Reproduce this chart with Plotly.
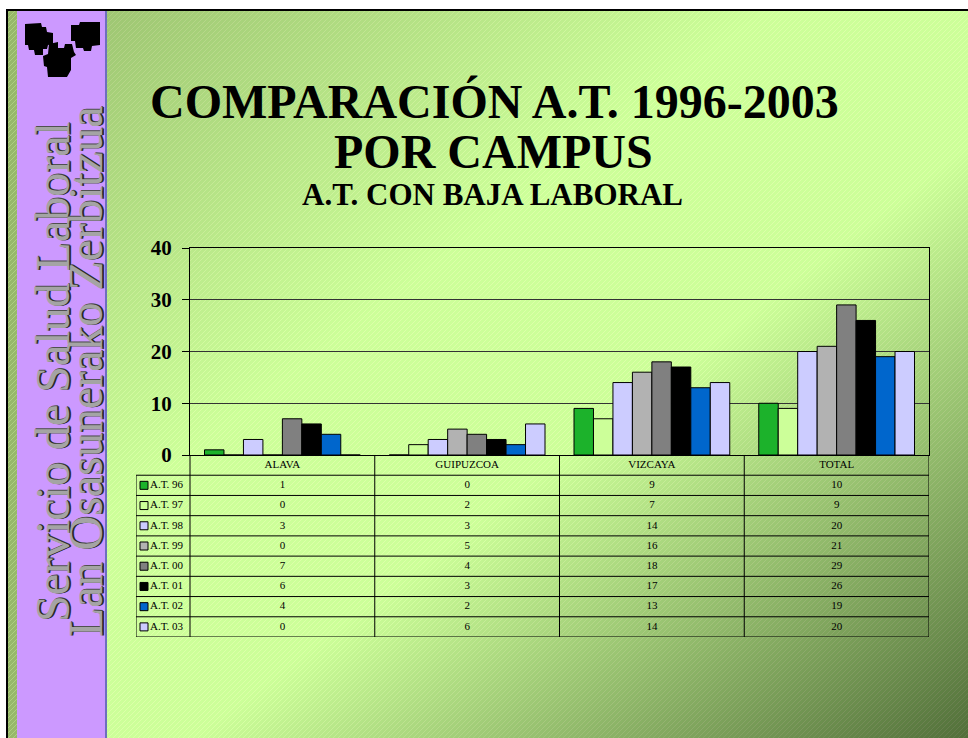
import base64, struct, zlib
import numpy as np
import plotly.graph_objects as go

# ---------------- data ----------------
campus = ["ALAVA", "GUIPUZCOA", "VIZCAYA", "TOTAL"]
series_names = ["A.T. 96", "A.T. 97", "A.T. 98", "A.T. 99", "A.T. 00", "A.T. 01", "A.T. 02", "A.T. 03"]
at96 = [1, 0, 9, 10]
at97 = [0, 2, 7, 9]
at98 = [3, 3, 14, 20]
at99 = [0, 5, 16, 21]
at00 = [7, 4, 18, 29]
at01 = [6, 3, 17, 26]
at02 = [4, 2, 13, 19]
at03 = [0, 6, 14, 20]
values = [at96, at97, at98, at99, at00, at01, at02, at03]
colors = ["#1CB22B", "#CCFF99", "#CCCCFF", "#B2B2B2", "#808080", "#000000", "#0066CC", "#CCCCFF"]
y_ticks = [0, 10, 20, 30, 40]

title1 = "COMPARACIÓN A.T. 1996-2003"
title2 = "POR CAMPUS"
title3 = "A.T. CON BAJA LABORAL"
side1 = "Servicio de Salud Laboral"
side2 = "Lan Osasunerako Zerbitzua"

W, H = 968, 738
SERIF = "Liberation Serif, Times New Roman, serif"


# ---------------- background picture ----------------
def make_png(arr):
    h, w, _ = arr.shape
    raw = b"".join(b"\x00" + arr[i].tobytes() for i in range(h))

    def chunk(tag, data):
        c = struct.pack(">I", len(data)) + tag + data
        return c + struct.pack(">I", zlib.crc32(tag + data) & 0xFFFFFFFF)

    return (b"\x89PNG\r\n\x1a\n"
            + chunk(b"IHDR", struct.pack(">IIBBBBB", w, h, 8, 2, 0, 0, 0))
            + chunk(b"IDAT", zlib.compress(raw, 9))
            + chunk(b"IEND", b""))


yy, xx = np.mgrid[0:H, 0:W].astype(float)
t = (xx / W + yy / H) / 2
st = [0.0, 0.40, 0.60, 1.0]
sc = [(150, 188, 108), (204, 255, 153), (204, 255, 153), (82, 112, 58)]
img = np.zeros((H, W, 3))
for c in range(3):
    img[..., c] = np.interp(t, st, [s[c] for s in sc])
stripe = ((xx + yy) % 5) < 1
img[stripe] += np.array([16, 6, 16])
strip = (xx >= 8) & (xx < 17)
img[strip] = np.array([150, 185, 105])
img[strip & stripe] = np.array([175, 205, 130])
side = (xx >= 17) & (xx < 105)
img[side] = np.array([204, 153, 255])
edge = (xx >= 105) & (xx < 107)
img[edge] = np.array([110, 110, 190])
img[(xx < 6) | (yy < 9)] = 255
img[((xx >= 6) & (xx < 8) & (yy >= 9)) | ((yy >= 9) & (yy < 11) & (xx >= 6))] = 0
img = np.clip(img, 0, 255).astype(np.uint8)
bg_src = "data:image/png;base64," + base64.b64encode(make_png(img)).decode()


def px(x):
    return x / W


def py(y):
    return 1 - y / H


fig = go.Figure()

# ---------------- bars ----------------
for name, vals, col in zip(series_names, values, colors):
    fig.add_trace(go.Bar(
        x=campus, y=vals, name=name, marker=dict(color=col, line=dict(color="black", width=1)),
        showlegend=False, hoverinfo="x+y+name"))

# ---------------- data table (x2/y2) ----------------
leg_w = 54 / 184.75
x2_left = -0.5 - leg_w
col_idx = list(range(len(campus)))
fig.add_trace(go.Scatter(
    x=col_idx, y=[-1] * len(campus), text=campus, mode="text", xaxis="x2", yaxis="y2",
    textfont=dict(family=SERIF, size=11, color="black"), showlegend=False, hoverinfo="skip"))
for r, (name, vals, col) in enumerate(zip(series_names, values, colors)):
    fig.add_trace(go.Scatter(
        x=col_idx, y=[r] * len(vals), text=[str(v) for v in vals], mode="text",
        xaxis="x2", yaxis="y2", textfont=dict(family=SERIF, size=11, color="black"),
        showlegend=False, hoverinfo="skip"))
    fig.add_trace(go.Scatter(
        x=[x2_left + 8 / 184.75], y=[r], text=[name], mode="markers+text", textposition="middle right",
        marker=dict(symbol="square", size=8, color=col, line=dict(color="black", width=1)),
        xaxis="x2", yaxis="y2", textfont=dict(family=SERIF, size=11, color="black"),
        showlegend=False, hoverinfo="skip"))

shapes = []
n_rows = len(series_names)
for k in range(n_rows + 1):
    yv = k - 0.5
    shapes.append(dict(type="line", xref="x2", yref="y2", x0=x2_left, x1=3.5, y0=yv, y1=yv,
                       line=dict(color="black", width=1)))
for xv in [-0.5, 0.5, 1.5, 2.5, 3.5]:
    shapes.append(dict(type="line", xref="x2", yref="y2", x0=xv, x1=xv, y0=-1.5, y1=n_rows - 0.5,
                       line=dict(color="black", width=1)))
shapes.append(dict(type="line", xref="x2", yref="y2", x0=x2_left, x1=x2_left, y0=-0.5, y1=n_rows - 0.5,
                   line=dict(color="black", width=1)))

# ---------------- logo ----------------
logo_polys = [
    [(25, 24), (41, 23), (42, 27), (46, 27), (47, 32), (53, 33), (53, 44), (48, 45), (47, 49), (43, 49),
     (43, 55), (35, 55), (34, 50), (29, 50), (28, 45), (25, 45)],
    [(71, 25), (79, 25), (80, 22), (100, 22), (100, 45), (92, 46), (91, 51), (84, 51), (83, 48), (76, 48),
     (75, 41), (71, 41)],
    [(49, 44), (58, 42), (58, 48), (64, 48), (65, 44), (72, 44), (74, 52), (76, 55), (71, 58), (71, 70),
     (67, 77), (48, 77), (47, 67), (44, 66), (43, 56), (48, 54)],
]
for poly in logo_polys:
    path = "M " + " L ".join(f"{px(a):.5f},{py(b):.5f}" for a, b in poly) + " Z"
    shapes.append(dict(type="path", xref="paper", yref="paper", path=path,
                       fillcolor="black", line=dict(color="black", width=0)))

side_font = dict(family=SERIF, size=48, color="#A4A4A4",
                 shadow="0px 2px 0px #2a2a2a, 1px 1px 0px #505050, 0px 1px 0px #404040")
annotations = [
    dict(text=f"<b>{title1}</b>", x=px(494), y=py(101), xref="paper", yref="paper", showarrow=False,
         font=dict(family=SERIF, size=48, color="black"), xanchor="center", yanchor="middle"),
    dict(text=f"<b>{title2}</b>", x=px(493), y=py(151), xref="paper", yref="paper", showarrow=False,
         font=dict(family=SERIF, size=48, color="black"), xanchor="center", yanchor="middle"),
    dict(text=f"<b>{title3}</b>", x=px(492), y=py(195), xref="paper", yref="paper", showarrow=False,
         font=dict(family=SERIF, size=31, color="black"), xanchor="center", yanchor="middle"),
    dict(text=side1, x=px(52), y=py(372), xref="paper", yref="paper", showarrow=False, textangle=-90,
         font=side_font, xanchor="center", yanchor="middle"),
    dict(text=side2, x=px(85), y=py(372), xref="paper", yref="paper", showarrow=False, textangle=-90,
         font=side_font, xanchor="center", yanchor="middle"),
]

fig.update_layout(
    width=W, height=H, margin=dict(l=0, r=0, t=0, b=0, pad=0, autoexpand=False),
    paper_bgcolor="white", plot_bgcolor="rgba(0,0,0,0)",
    barmode="group", bargap=0.157, bargroupgap=0,
    images=[dict(source=bg_src, xref="paper", yref="paper", x=0, y=1, sizex=1, sizey=1,
                 sizing="stretch", xanchor="left", yanchor="top", layer="below")],
    xaxis=dict(domain=[px(190), px(929)], anchor="y", type="category", range=[-0.5, 3.5],
               showticklabels=False, ticks="", showgrid=False, zeroline=False, automargin=False,
               showline=True, linecolor="black", linewidth=1, mirror=True),
    yaxis=dict(domain=[py(455), py(248)], anchor="x", range=[0, 40], tickvals=y_ticks,
               showgrid=True, gridcolor="#333333", gridwidth=1, zeroline=False, automargin=False,
               showline=True, linecolor="black", linewidth=1, mirror=True,
               ticks="outside", ticklen=7, tickcolor="black", ticklabelstandoff=6,
               tickfont=dict(family=SERIF, size=21, color="black", weight="bold")),
    xaxis2=dict(domain=[px(136), px(929)], anchor="y2", range=[x2_left, 3.5], visible=False,
                automargin=False),
    yaxis2=dict(domain=[py(637), py(455)], anchor="x2", range=[n_rows - 0.5, -1.5], visible=False,
                automargin=False),
    shapes=shapes, annotations=annotations,
)

fig.write_html(
    "out.html",
    config={"displayModeBar": False},
    post_script="document.body.style.margin='0';document.body.style.padding='0';"
                "document.body.style.overflow='hidden';",
)
